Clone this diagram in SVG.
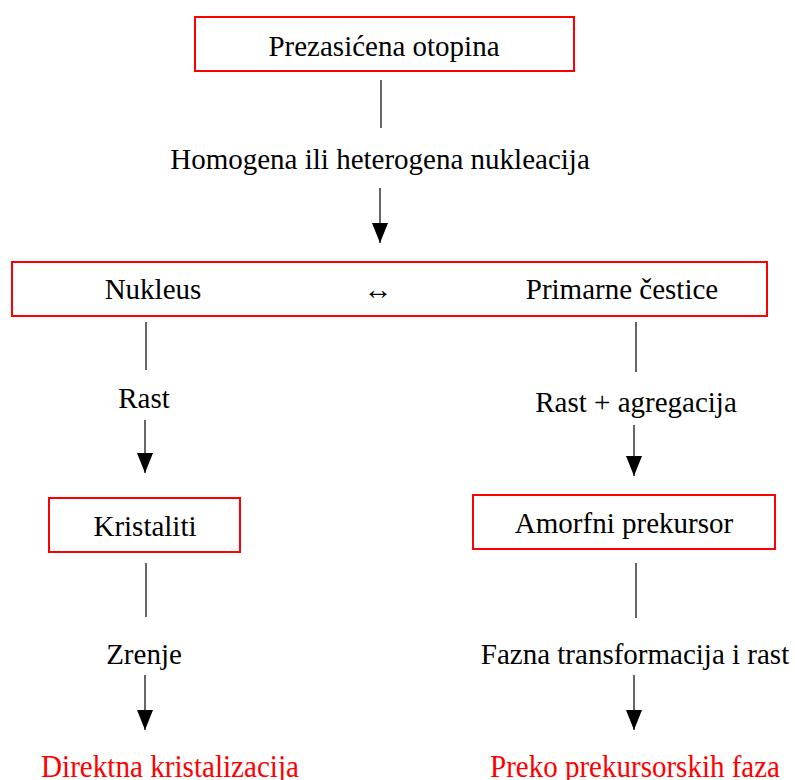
<svg xmlns="http://www.w3.org/2000/svg" width="795" height="780" viewBox="0 0 795 780" font-family="'Liberation Serif', serif">
<defs>
<marker id="ah" markerWidth="20" markerHeight="16" refX="20" refY="8" orient="auto" markerUnits="userSpaceOnUse" viewBox="0 0 20 16">
<path d="M0,0 L20,8 L0,16 Z" fill="#000"/>
</marker>
</defs>
<style>
text{font-family:'Liberation Serif',serif}
.box{fill:#fff;stroke:#ff0000;stroke-width:2}
.t{font-size:29px;fill:#000;text-anchor:middle}
.r{fill:#ff0000;font-size:31px}
.ln{stroke:#000;stroke-width:1.2;fill:none}
</style>
<g id="n-top"><rect class="box" x="195" y="17" width="379" height="54"/><text class="t" x="384" y="56">Prezasićena otopina</text></g>
<g id="n-mid"><rect class="box" x="12" y="262" width="755" height="54"/><text class="t" x="153" y="299">Nukleus</text><text class="t" x="378" y="299">↔</text><text class="t" x="622" y="299">Primarne čestice</text></g>
<g id="n-kris"><rect class="box" x="49" y="498" width="191" height="54"/><text class="t" x="145" y="536">Kristaliti</text></g>
<g id="n-amor"><rect class="box" x="473" y="495" width="302" height="54"/><text class="t" x="624" y="533">Amorfni prekursor</text></g>
<g id="n-dir"><text class="t r" x="170" y="777" textLength="258" lengthAdjust="spacingAndGlyphs">Direktna kristalizacija</text></g>
<g id="n-pre"><text class="t r" x="635" y="777" textLength="290" lengthAdjust="spacingAndGlyphs">Preko prekursorskih faza</text></g>
<g id="connectors">
<line class="ln" x1="381" y1="80" x2="381" y2="128"/>
<text class="t" x="380" y="169">Homogena ili heterogena nukleacija</text>
<line class="ln" x1="380" y1="188" x2="380" y2="243" marker-end="url(#ah)"/>
<line class="ln" x1="146" y1="322" x2="146" y2="370"/>
<text class="t" x="144" y="408">Rast</text>
<line class="ln" x1="145" y1="420" x2="145" y2="473" marker-end="url(#ah)"/>
<line class="ln" x1="636" y1="322" x2="636" y2="372"/>
<text class="t" x="636" y="412">Rast + agregacija</text>
<line class="ln" x1="634" y1="425" x2="634" y2="476" marker-end="url(#ah)"/>
<line class="ln" x1="146" y1="563" x2="146" y2="617"/>
<text class="t" x="144" y="664">Zrenje</text>
<line class="ln" x1="145" y1="675" x2="145" y2="730" marker-end="url(#ah)"/>
<line class="ln" x1="636" y1="563" x2="636" y2="618"/>
<text class="t" x="635" y="664">Fazna transformacija i rast</text>
<line class="ln" x1="634" y1="675" x2="634" y2="730" marker-end="url(#ah)"/>
</g>
</svg>
